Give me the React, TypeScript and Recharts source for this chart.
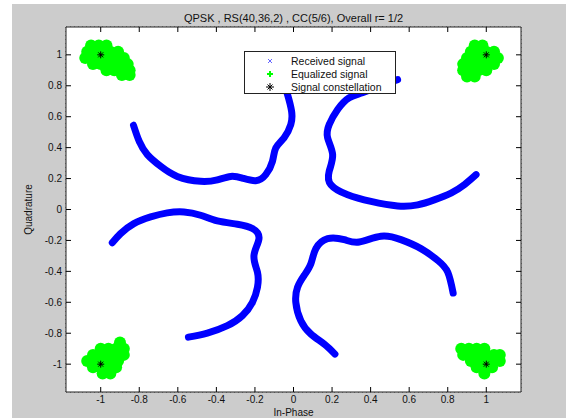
import { ScatterChart, Scatter, XAxis, YAxis, CartesianGrid, ReferenceArea, Legend } from 'recharts';

const FONT = '"Liberation Sans", Arial, Helvetica, sans-serif';

const xTicks = [-1, -0.8, -0.6, -0.4, -0.2, 0, 0.2, 0.4, 0.6, 0.8, 1];
const yTicks = [-1, -0.8, -0.6, -0.4, -0.2, 0, 0.2, 0.4, 0.6, 0.8, 1];

// received signal, read along each of the four arcs
const receivedUpperLeft: [number, number][] = [
  [-0.83, 0.545], [-0.8, 0.44], [-0.758, 0.355], [-0.689, 0.279], [-0.603, 0.214],
  [-0.482, 0.182], [-0.395, 0.192], [-0.326, 0.214], [-0.265, 0.203], [-0.196, 0.186],
  [-0.144, 0.225], [-0.109, 0.312], [-0.092, 0.398], [-0.049, 0.463], [-0.014, 0.549],
  [-0.01, 0.636], [-0.031, 0.744], [-0.05, 0.82],
];
const receivedUpperRight: [number, number][] = [
  [0.947, 0.225], [0.886, 0.16], [0.817, 0.106], [0.73, 0.062], [0.644, 0.03],
  [0.54, 0.023], [0.402, 0.052], [0.281, 0.095], [0.194, 0.16], [0.185, 0.247],
  [0.203, 0.355], [0.177, 0.463], [0.185, 0.549], [0.229, 0.647], [0.289, 0.723],
  [0.358, 0.755], [0.45, 0.8], [0.54, 0.84],
];
const receivedLowerLeft: [number, number][] = [
  [-0.94, -0.215], [-0.897, -0.156], [-0.828, -0.091], [-0.741, -0.048], [-0.655, -0.022],
  [-0.568, -0.016], [-0.482, -0.037], [-0.395, -0.074], [-0.291, -0.095], [-0.213, -0.123],
  [-0.179, -0.188], [-0.205, -0.297], [-0.187, -0.405], [-0.187, -0.503], [-0.213, -0.6],
  [-0.265, -0.686], [-0.343, -0.751], [-0.447, -0.799], [-0.545, -0.825],
];
const receivedLowerRight: [number, number][] = [
  [0.215, -0.935], [0.159, -0.87], [0.09, -0.805], [0.038, -0.719], [0.012, -0.6],
  [0.021, -0.503], [0.055, -0.427], [0.09, -0.351], [0.116, -0.253], [0.177, -0.188],
  [0.263, -0.195], [0.341, -0.21], [0.454, -0.173], [0.557, -0.195], [0.661, -0.253],
  [0.748, -0.329], [0.8, -0.405], [0.828, -0.54],
];

// equalized signal clusters around the four constellation points
const equalized: [number, number][] = [
  // upper left
  [-1.05, 1.06], [-1.01, 1.06], [-0.97, 1.06],
  [-1.07, 1.02], [-1.03, 1.02], [-0.99, 1.02], [-0.95, 1.02], [-0.91, 1.02],
  [-1.08, 0.98], [-1.04, 0.98], [-1.0, 0.98], [-0.96, 0.98], [-0.92, 0.98], [-0.88, 0.98],
  [-1.04, 0.94], [-1.0, 0.94], [-0.96, 0.94], [-0.92, 0.94], [-0.88, 0.94], [-0.86, 0.94],
  [-0.97, 0.9], [-0.93, 0.9], [-0.89, 0.9], [-0.85, 0.9],
  [-0.89, 0.87], [-0.85, 0.87],
  // upper right
  [0.94, 1.06], [0.98, 1.06],
  [0.92, 1.02], [0.96, 1.02], [1.0, 1.02], [1.04, 1.02],
  [0.9, 0.98], [0.94, 0.98], [0.98, 0.98], [1.02, 0.98], [1.06, 0.98],
  [0.88, 0.94], [0.92, 0.94], [0.96, 0.94], [1.0, 0.94], [1.04, 0.94],
  [0.88, 0.9], [0.92, 0.9], [0.96, 0.9], [1.0, 0.9],
  [0.9, 0.86], [0.94, 0.86],
  // lower left
  [-0.9, -0.86],
  [-1.0, -0.9], [-0.96, -0.9], [-0.92, -0.9], [-0.88, -0.9],
  [-1.04, -0.94], [-1.0, -0.94], [-0.96, -0.94], [-0.92, -0.94], [-0.88, -0.94],
  [-1.07, -0.98], [-1.03, -0.98], [-0.99, -0.98], [-0.95, -0.98], [-0.91, -0.98],
  [-1.04, -1.02], [-1.0, -1.02], [-0.96, -1.02], [-0.92, -1.02],
  [-0.99, -1.06], [-0.95, -1.06],
  // lower right
  [0.87, -0.9], [0.91, -0.9], [0.95, -0.9], [0.99, -0.9],
  [0.88, -0.94], [0.92, -0.94], [0.96, -0.94], [1.0, -0.94], [1.04, -0.94], [1.07, -0.94],
  [0.92, -0.98], [0.96, -0.98], [1.0, -0.98], [1.04, -0.98], [1.07, -0.98],
  [0.95, -1.02], [0.99, -1.02], [1.03, -1.02],
  [0.99, -1.06],
];

const constellation: [number, number][] = [[-1, 1], [1, 1], [-1, -1], [1, -1]];

const legendItems = ['Received signal', 'Equalized signal', 'Signal constellation'];
const title = 'QPSK , RS(40,36,2) , CC(5/6), Overall r= 1/2';

const toPoints = (pts: [number, number][]) => pts.map(([x, y]) => ({ x, y }));

const PLOT_TOP = 27;
const PLOT_BOTTOM = 392;
const PLOT_LEFT = 66;
const PLOT_RIGHT = 521;

function XTick({ x, y, payload }: any) {
  return (
    <g>
      <line x1={x} x2={x} y1={PLOT_BOTTOM} y2={PLOT_BOTTOM - 5} stroke="#000" />
      <line x1={x} x2={x} y1={PLOT_TOP} y2={PLOT_TOP + 5} stroke="#000" />
      <text x={x} y={y} dy="0.71em" textAnchor="middle" fontSize={10} fill="#111" fontFamily={FONT}>
        {payload.value}
      </text>
    </g>
  );
}

function YTick({ x, y, payload }: any) {
  return (
    <g>
      <line x1={PLOT_LEFT} x2={PLOT_LEFT + 5} y1={y} y2={y} stroke="#000" />
      <line x1={PLOT_RIGHT} x2={PLOT_RIGHT - 5} y1={y} y2={y} stroke="#000" />
      <text x={x} y={y} dy="0.355em" textAnchor="end" fontSize={10} fill="#111" fontFamily={FONT}>
        {payload.value}
      </text>
    </g>
  );
}

const XMark = ({ cx, cy, color = '#0000ff', s = 2 }: any) => (
  <path d={`M${cx - s},${cy - s}L${cx + s},${cy + s}M${cx - s},${cy + s}L${cx + s},${cy - s}`} stroke={color} strokeWidth={1} />
);

const Star = ({ cx, cy, s = 3.5 }: any) => (
  <path
    d={`M${cx - s},${cy}L${cx + s},${cy}M${cx},${cy - s}L${cx},${cy + s}M${cx - 2.5},${cy - 2.5}L${cx + 2.5},${cy + 2.5}M${cx - 2.5},${cy + 2.5}L${cx + 2.5},${cy - 2.5}`}
    stroke="#000"
    strokeWidth={1}
  />
);

const GreenBlob = ({ cx, cy }: any) => <circle cx={cx} cy={cy} r={6} fill="#00ff00" stroke="none" />;

function LegendBox() {
  const markers = [
    <svg width={10} height={10} key="a"><XMark cx={5} cy={5} s={2} color="#6666ff" /></svg>,
    <svg width={10} height={10} key="b"><path d="M2,5L8,5M5,2L5,8" stroke="#00ff00" strokeWidth={2} /></svg>,
    <svg width={10} height={10} key="c"><Star cx={5} cy={5} s={4} /></svg>,
  ];
  return (
    <div
      style={{
        width: 152,
        height: 43,
        boxSizing: 'border-box',
        border: '1px solid #222',
        background: '#fff',
        fontFamily: FONT,
        fontSize: 10.5,
        color: '#111',
        paddingTop: 2,
      }}
    >
      {legendItems.map((label, i) => (
        <div key={label} style={{ display: 'flex', alignItems: 'center', height: 13.3 }}>
          <div style={{ width: 20, marginLeft: 15, display: 'flex', justifyContent: 'center' }}>{markers[i]}</div>
          <span style={{ marginLeft: 11, whiteSpace: 'nowrap' }}>{label}</span>
        </div>
      ))}
    </div>
  );
}

const arcLine = { stroke: '#0000ff', strokeWidth: 7, strokeLinejoin: 'round', strokeLinecap: 'round' } as any;

export default function App() {
  const arcs = [receivedUpperLeft, receivedUpperRight, receivedLowerLeft, receivedLowerRight];
  return (
    <div style={{ position: 'absolute', left: 0, top: 0, width: 566, height: 418, background: '#fff', overflow: 'hidden' }}>
      <div style={{ position: 'absolute', left: 12, top: 4, right: 0, bottom: 0, background: '#cccccc' }} />
      <div
        style={{
          position: 'absolute',
          left: PLOT_LEFT,
          width: PLOT_RIGHT - PLOT_LEFT,
          top: 12,
          textAlign: 'center',
          fontFamily: FONT,
          fontSize: 11,
          lineHeight: '13px',
          color: '#111',
          whiteSpace: 'nowrap',
        }}
      >
        {title}
      </div>
      <div style={{ position: 'absolute', left: 0, top: 0 }}>
        <ScatterChart width={566} height={418} margin={{ top: PLOT_TOP, right: 566 - PLOT_RIGHT, left: 26, bottom: 0 }}>
          <ReferenceArea x1={-1.18} x2={1.18} y1={-1.18} y2={1.18} fill="#ffffff" fillOpacity={1} stroke="none" ifOverflow="visible" />
          <CartesianGrid stroke="#444" strokeDasharray="1 3" />
          <XAxis
            type="number"
            dataKey="x"
            domain={[-1.18, 1.18]}
            ticks={xTicks}
            allowDataOverflow
            axisLine={false}
            tickLine={false}
            tickSize={0}
            tickMargin={4}
            height={26}
            tick={<XTick />}
            label={{ value: 'In-Phase', position: 'insideBottom', offset: 2, fontSize: 10, fill: '#111', fontFamily: FONT }}
          />
          <YAxis
            type="number"
            dataKey="y"
            domain={[-1.18, 1.18]}
            ticks={yTicks}
            allowDataOverflow
            axisLine={false}
            tickLine={false}
            tickSize={0}
            tickMargin={4}
            width={40}
            tick={<YTick />}
            label={{ value: 'Quadrature', angle: -90, position: 'insideLeft', offset: 2, fontSize: 10, fill: '#111', fontFamily: FONT, style: { textAnchor: 'middle' } }}
          />
          {arcs.map((arc, i) => (
            <Scatter
              key={i}
              name="Received signal"
              data={toPoints(arc)}
              line={arcLine}
              lineJointType="natural"
              shape={<XMark />}
              isAnimationActive={false}
            />
          ))}
          <Scatter name="Equalized signal" data={toPoints(equalized)} shape={<GreenBlob />} isAnimationActive={false} />
          <Scatter name="Signal constellation" data={toPoints(constellation)} shape={<Star />} isAnimationActive={false} />
          <ReferenceArea x1={-1.18} x2={1.18} y1={-1.18} y2={1.18} fill="none" stroke="#222" ifOverflow="visible" />
          <Legend
            verticalAlign="middle"
            content={() => <LegendBox />}
            wrapperStyle={{ left: 244, top: 51, width: 152, height: 43, bottom: 'auto', right: 'auto' }}
          />
        </ScatterChart>
      </div>
    </div>
  );
}
